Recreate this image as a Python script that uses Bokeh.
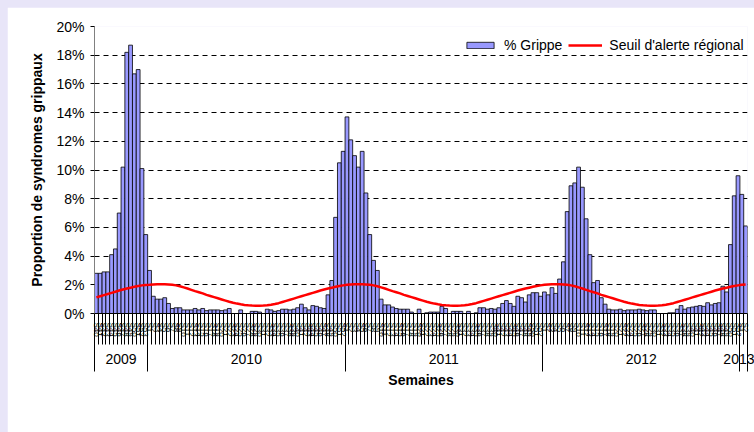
from bokeh.plotting import figure
from bokeh.models import (Range1d, ColumnDataSource, Legend, LegendItem,
                          SingleIntervalTicker, PrintfTickFormatter, LinearAxis, FixedTicker)
from bokeh.embed import file_html
from bokeh.resources import INLINE

FONT = "Liberation Sans"

# ---- categories -------------------------------------------------------
years = ["2009", "2010", "2011", "2012", "2013"]
weeks_2009 = list(range(40, 54))
weeks_2010 = list(range(1, 53))
weeks_2011 = list(range(1, 53))
weeks_2012 = list(range(1, 53))
weeks_2013 = [1, 2]

# ---- % Grippe (weekly values) -----------------------------------------
grippe_2009 = [2.8, 2.8, 2.9, 2.9, 4.1, 4.5, 7.0, 10.2, 18.2, 18.7, 16.7, 17.0, 10.1, 5.5]
grippe_2010 = [3.0, 1.2, 1.0, 1.0, 1.1, 0.7, 0.35, 0.4, 0.4, 0.25,
               0.25, 0.25, 0.35, 0.25, 0.35, 0.2, 0.25, 0.25, 0.25, 0.2,
               0.25, 0.35, 0.0, 0.0, 0.25, 0.0, 0.0, 0.15, 0.15, 0.1,
               0.0, 0.3, 0.25, 0.15, 0.2, 0.3, 0.3, 0.25, 0.3, 0.4,
               0.65, 0.4, 0.25, 0.55, 0.5, 0.4, 0.35, 1.3, 2.3, 6.7,
               10.5, 11.3]
grippe_2011 = [13.7, 12.1, 11.0, 10.2, 11.3, 8.4, 5.5, 3.7, 3.0, 1.0,
               0.6, 0.6, 0.45, 0.35, 0.3, 0.3, 0.3, 0.1, 0.0, 0.3,
               0.0, 0.05, 0.1, 0.1, 0.1, 0.5, 0.35, 0.0, 0.15, 0.15,
               0.15, 0.0, 0.15, 0.0, 0.05, 0.4, 0.4, 0.3, 0.35, 0.3,
               0.4, 0.7, 0.9, 0.7, 0.5, 1.2, 1.1, 0.8, 1.3, 1.45,
               1.45, 1.2]
grippe_2012 = [1.5, 1.3, 1.8, 1.4, 2.4, 3.6, 7.1, 8.9, 9.1, 10.2,
               8.8, 6.6, 4.1, 2.15, 2.3, 1.1, 0.65, 0.3, 0.25, 0.25,
               0.3, 0.2, 0.25, 0.25, 0.25, 0.3, 0.25, 0.2, 0.25, 0.25,
               0.0, 0.0, 0.0, 0.05, 0.05, 0.3, 0.55, 0.3, 0.4, 0.45,
               0.5, 0.55, 0.5, 0.75, 0.6, 0.7, 0.75, 1.9, 1.5, 4.8,
               8.2, 9.6]
grippe_2013 = [8.3, 6.1]

# ---- Seuil d'alerte régional, by week of year (1..53) -----------------
seuil_by_week = [2.0, 2.02, 2.03, 2.03, 2.03, 2.02, 2.0, 1.96, 1.9, 1.82,
                 1.74, 1.65, 1.56, 1.48, 1.4, 1.3, 1.22, 1.14, 1.06, 0.98,
                 0.9, 0.82, 0.75, 0.69, 0.64, 0.6, 0.57, 0.55, 0.54, 0.54,
                 0.55, 0.57, 0.61, 0.66, 0.72, 0.8, 0.88, 0.96, 1.04, 1.12,
                 1.2, 1.28, 1.36, 1.44, 1.52, 1.6, 1.67, 1.74, 1.8, 1.86,
                 1.92, 1.96, 1.99]

week_lists = [weeks_2009, weeks_2010, weeks_2011, weeks_2012, weeks_2013]
value_lists = [grippe_2009, grippe_2010, grippe_2011, grippe_2012, grippe_2013]

grippe, seuil, week_text = [], [], []
year_centers, year_bounds = [], [0]
for yr, wks, vals in zip(years, week_lists, value_lists):
    start = len(grippe)
    for w, v in zip(wks, vals):
        week_text.append("S%d" % w)
        grippe.append(v)
        seuil.append(seuil_by_week[w - 1])
    year_centers.append((start + len(grippe)) / 2)
    year_bounds.append(len(grippe))
n = len(grippe)
week_pos = [i + 0.5 for i in range(n)]   # centre of each weekly category

src = ColumnDataSource(dict(x=week_pos, grippe=grippe, seuil=seuil))

p = figure(x_range=Range1d(0, n), y_range=Range1d(0, 20), width=747, height=425,
           output_backend="svg", toolbar_location=None, x_axis_location=None,
           min_border_left=87, min_border_right=7, min_border_top=19,
           min_border_bottom=119)
p.outline_line_color = None
p.background_fill_color = "white"
p.border_fill_color = "white"

bars = p.vbar(x="x", top="grippe", width=1.0, source=src,
              fill_color="#9999FF", line_color="black", line_width=0.8)
line = p.line(x="x", y="seuil", source=src, line_color="#FF0000", line_width=2.5)

# grid
p.xgrid.visible = False
p.ygrid.grid_line_color = "black"
p.ygrid.grid_line_dash = "5 4"
p.ygrid.grid_line_width = 1

# y axis
ya = p.yaxis[0]
ya.ticker = SingleIntervalTicker(interval=2, num_minor_ticks=0)
ya.formatter = PrintfTickFormatter(format="%d%%")
ya.axis_line_color = "#808080"
ya.major_tick_line_color = "black"
ya.major_tick_out = 4
ya.major_tick_in = 0
ya.minor_tick_line_color = None
ya.major_label_text_font = FONT
ya.major_label_text_font_size = "14px"
ya.major_label_text_color = "black"
ya.major_label_standoff = 6
ya.axis_label = "Proportion de syndromes grippaux"
ya.axis_label_text_font = FONT
ya.axis_label_text_font_size = "14px"
ya.axis_label_text_font_style = "bold"
ya.axis_label_text_color = "black"
ya.axis_label_standoff = 8

# week axis (labels at the week centres, tick marks at week boundaries)
wa = LinearAxis(ticker=FixedTicker(ticks=week_pos, minor_ticks=list(range(n + 1))),
                major_label_overrides={pos: t for pos, t in zip(week_pos, week_text)})
wa.axis_line_color = "black"
wa.major_tick_line_color = None
wa.major_tick_out = 0
wa.major_tick_in = 0
wa.minor_tick_line_color = "black"
wa.minor_tick_out = 31
wa.minor_tick_in = 0
wa.major_label_orientation = "vertical"
wa.major_label_text_font = FONT
wa.major_label_text_font_size = "8px"
wa.major_label_text_color = "black"
wa.major_label_standoff = -22
p.add_layout(wa, "below")

# year axis (labels at year centres, separators at year boundaries)
yx = LinearAxis(ticker=FixedTicker(ticks=year_centers, minor_ticks=year_bounds),
                major_label_overrides={c: y for c, y in zip(year_centers, years)})
yx.axis_line_color = None
yx.major_tick_line_color = None
yx.major_tick_out = 0
yx.major_tick_in = 0
yx.minor_tick_line_color = "black"
yx.minor_tick_out = 32
yx.minor_tick_in = 24
yx.major_label_text_font = FONT
yx.major_label_text_font_size = "14px"
yx.major_label_text_color = "black"
yx.major_label_standoff = -18
yx.axis_label = "Semaines"
yx.axis_label_text_font = FONT
yx.axis_label_text_font_size = "14px"
yx.axis_label_text_font_style = "bold"
yx.axis_label_text_color = "black"
yx.axis_label_standoff = 5
p.add_layout(yx, "below")

legend = Legend(items=[LegendItem(label="% Grippe", renderers=[bars]),
                       LegendItem(label="Seuil d'alerte régional", renderers=[line])],
                orientation="horizontal", location=(369, 260))
legend.background_fill_color = "white"
legend.background_fill_alpha = 1
legend.border_line_color = None
legend.padding = 6
legend.spacing = 6
legend.label_standoff = 7
legend.glyph_width = 34
legend.glyph_height = 8
legend.label_height = 16
legend.label_text_font = FONT
legend.label_text_font_size = "14px"
legend.label_text_color = "black"
p.add_layout(legend)

html = file_html(p, INLINE)
html = html.replace("</head>",
                    "<style>html, body {background-color:#E8E5F8;} body {padding: 7px 0 0 7px;}</style></head>", 1)
open("out.html", "w").write(html)
